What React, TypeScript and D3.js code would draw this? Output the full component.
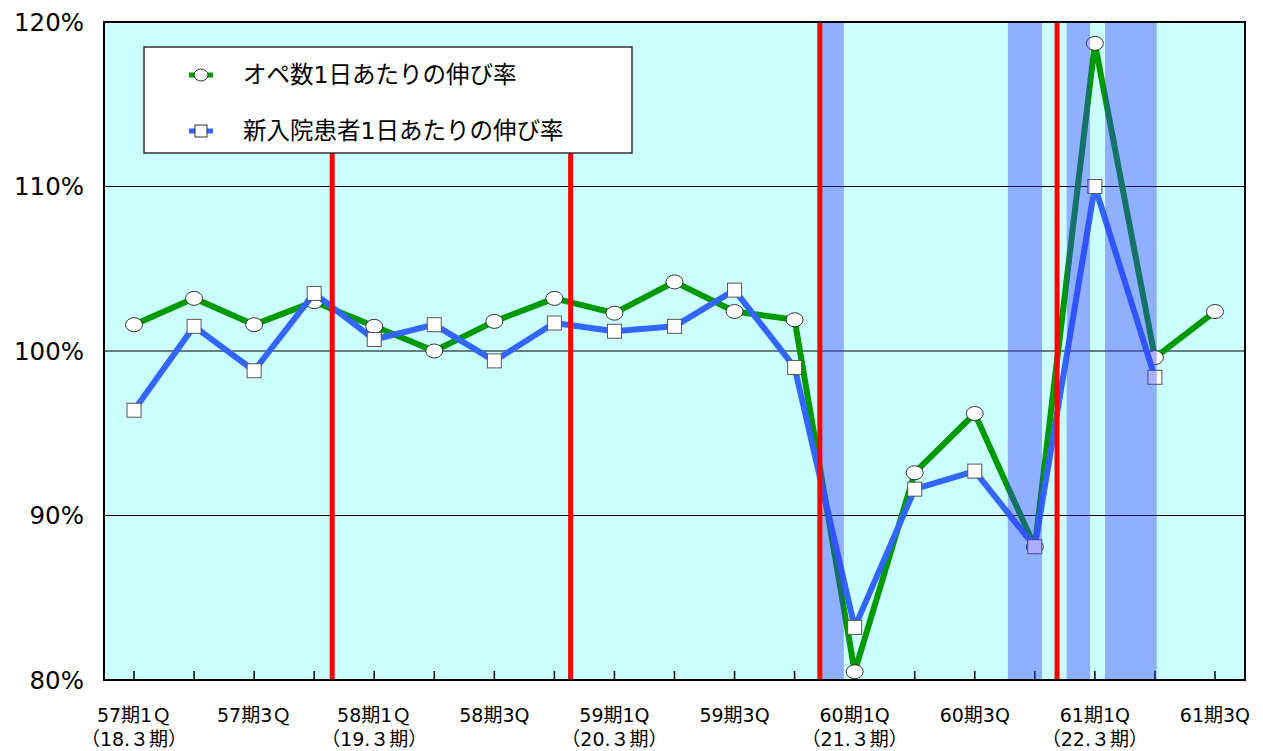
import React from "react";
import * as d3 from "d3";

const categories = ["57期1Ｑ","57期2Q","57期3Ｑ","57期4Q","58期1Ｑ","58期2Q","58期3Ｑ","58期4Q","59期1Q","59期2Q","59期3Q","59期4Q","60期1Q","60期2Q","60期3Q","60期4Q","61期1Q","61期2Q","61期3Q"];
const labelTop: Record<string,string> = {"57期1Ｑ":"57期1Ｑ","57期3Ｑ":"57期3Ｑ","58期1Ｑ":"58期1Ｑ","58期3Ｑ":"58期3Q","59期1Q":"59期1Q","59期3Q":"59期3Q","60期1Q":"60期1Q","60期3Q":"60期3Q","61期1Q":"61期1Q","61期3Q":"61期3Q"};
const labelBottom: Record<string,string> = {"57期1Ｑ":"（18.３期）","58期1Ｑ":"（19.３期）","59期1Q":"（20.３期）","60期1Q":"（21.３期）","61期1Q":"（22.３期）"};
const opeGrowth = [101.6,103.2,101.6,103.0,101.5,100.0,101.8,103.2,102.3,104.2,102.4,101.9,80.5,92.6,96.2,88.1,118.7,99.6,102.4];
const admissionGrowth: (number|null)[] = [96.4,101.5,98.8,103.5,100.7,101.6,99.4,101.7,101.2,101.5,103.7,99.0,83.2,91.6,92.7,88.1,110.0,98.4,null];
const yTicks = [80,90,100,110,120];
// red event lines: positioned between categories (index + fraction)
const redLines = [3.3, 7.27, 11.42, 15.37];
// shaded bands [start, end] in category index units
const bands: [number,number][] = [[11.42,11.82],[14.55,15.12],[15.53,15.92],[16.17,17.03]];

export default function App() {
  const W = 1263, H = 751;
  const left = 104, right = 1245, top = 22, bottom = 680;
  const x = d3.scaleBand<string>().domain(categories).range([left, right]);
  const bw = x.bandwidth();
  const cx = (c: string) => (x(c) as number) + bw / 2;
  const xi = d3.scaleLinear().domain([0, categories.length - 1]).range([left + bw / 2, right - bw / 2]);
  const y = d3.scaleLinear().domain([80, 120]).range([bottom, top]);
  const greenPts = opeGrowth.map((v, i) => [cx(categories[i]), y(v)] as [number, number]);
  const bluePts = admissionGrowth.map((v, i) => v == null ? null : [cx(categories[i]), y(v)] as [number, number]).filter(Boolean) as [number, number][];
  const line = d3.line();
  const jp = "'DejaVu Sans', 'Noto Sans CJK JP', sans-serif";
  const green = "#009900", blue = "#3366ff";
  return (
    <svg width={W} height={H} style={{ position: "absolute", left: 0, top: 0, background: "#fff" }}>
      <rect x={left} y={top} width={right - left} height={bottom - top} fill="#ccffff" />
      {yTicks.filter(t => t > 80 && t < 120).map(t => (
        <line key={t} x1={left} x2={right} y1={y(t)} y2={y(t)} stroke="#000" strokeWidth={1} />
      ))}
      {categories.map(c => (
        <line key={c} x1={cx(c)} x2={cx(c)} y1={bottom} y2={bottom - 9} stroke="#000" strokeWidth={1.5} />
      ))}
      <path d={line(greenPts) || ""} fill="none" stroke={green} strokeWidth={6} strokeLinejoin="round" />
      {greenPts.map((p, i) => (
        <ellipse key={"g" + i} cx={p[0]} cy={p[1]} rx={8.5} ry={7} fill="#fff" stroke="#333" strokeWidth={1} />
      ))}
      <path d={line(bluePts) || ""} fill="none" stroke={blue} strokeWidth={6} strokeLinejoin="round" />
      {bluePts.map((p, i) => (
        <rect key={"b" + i} x={p[0] - 7} y={p[1] - 7} width={14} height={14} fill="#fff" stroke="#555" strokeWidth={1} />
      ))}
      {bands.map((b, i) => (
        <rect key={"band" + i} x={xi(b[0])} y={top} width={xi(b[1]) - xi(b[0])} height={bottom - top} fill="rgb(51,57,255)" fillOpacity={0.4} />
      ))}
      {redLines.map((r, i) => (
        <line key={"r" + i} x1={xi(r)} x2={xi(r)} y1={i < 2 ? 153 : top} y2={bottom} stroke="#ff0000" strokeWidth={5} />
      ))}
      <rect x={left} y={top} width={right - left} height={bottom - top} fill="none" stroke="#000" strokeWidth={2} />
      {yTicks.map(t => (
        <text key={t} x={84} y={y(t)} dy="0.36em" textAnchor="end" fontFamily={jp} fontSize={24.5} fill="#000">{t}%</text>
      ))}
      {categories.map(c => labelTop[c] ? (
        <g key={"l" + c}>
          <text x={cx(c)} y={722} textAnchor="middle" fontFamily={jp} fontSize={19} fill="#000">{labelTop[c]}</text>
          {labelBottom[c] && <text x={cx(c)} y={746} textAnchor="middle" fontFamily={jp} fontSize={19} fill="#000">{labelBottom[c]}</text>}
        </g>
      ) : null)}
      <g>
        <rect x={144} y={47} width={488} height={106} fill="#fff" stroke="#333" strokeWidth={1.5} />
        <line x1={189} x2={213} y1={75} y2={75} stroke={green} strokeWidth={5} />
        <ellipse cx={201} cy={75} rx={7} ry={6} fill="#fff" stroke="#333" strokeWidth={1} />
        <text x={243} y={75} dy="0.36em" fontFamily={jp} fontSize={23.5} fill="#000">オペ数1日あたりの伸び率</text>
        <line x1={189} x2={213} y1={131} y2={131} stroke={blue} strokeWidth={5} />
        <rect x={195} y={125} width={12} height={12} fill="#fff" stroke="#333" strokeWidth={1} />
        <text x={243} y={131} dy="0.36em" fontFamily={jp} fontSize={23.5} fill="#000">新入院患者1日あたりの伸び率</text>
      </g>
    </svg>
  );
}
